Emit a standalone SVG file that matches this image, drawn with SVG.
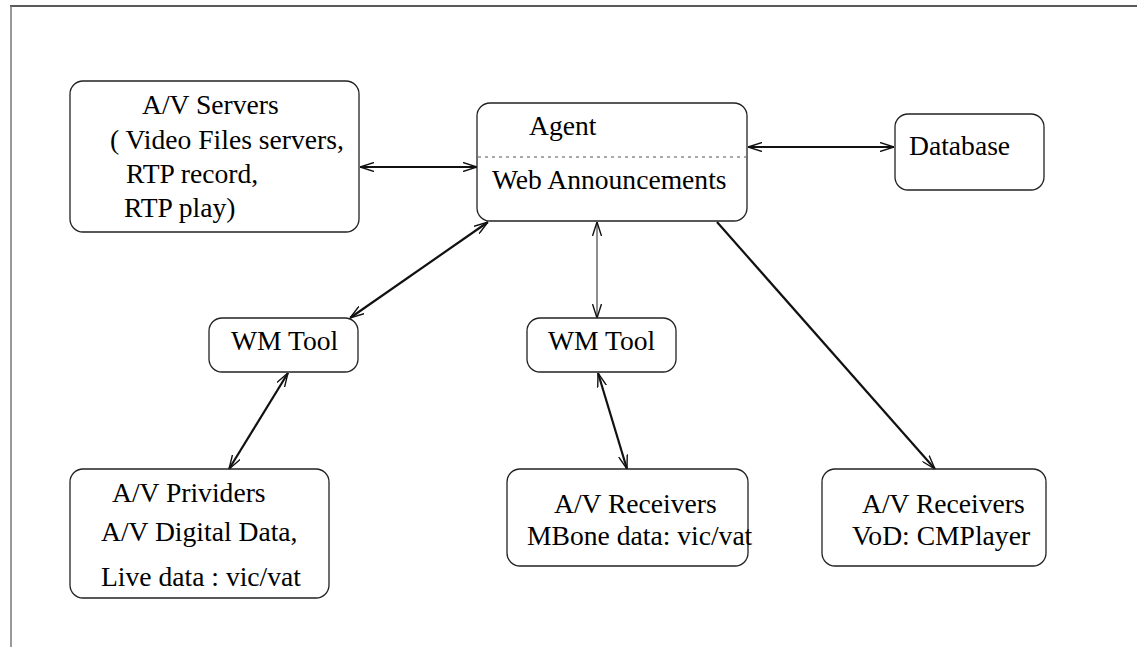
<svg xmlns="http://www.w3.org/2000/svg" width="1137" height="647" viewBox="0 0 1137 647">
<style>
.box{fill:none;stroke:#222;stroke-width:1.3}
.t{font-family:"Liberation Serif","Times New Roman",serif;font-size:27.6px;fill:#000}
.c{stroke:#111;stroke-width:2.2;fill:none}
.thin{stroke:#333;stroke-width:1.1;fill:none}
</style>
<defs>
<marker id="ah" viewBox="0 0 14 10" refX="14" refY="5" markerWidth="14" markerHeight="10" markerUnits="userSpaceOnUse" orient="auto-start-reverse">
<path d="M0,0.5 L14,5 L0,9.5" fill="none" stroke="#111" stroke-width="1.4"/>
</marker>
</defs>
<rect width="1137" height="647" fill="#fff"/>
<g id="frame">
<line x1="10" y1="6" x2="1137" y2="6" stroke="#222" stroke-width="1.5"/>
<line x1="11" y1="6" x2="11" y2="647" stroke="#777" stroke-width="1.5"/>
</g>
<g id="connectors">
<line class="c" x1="360" y1="167" x2="477" y2="167" marker-start="url(#ah)" marker-end="url(#ah)"/>
<line class="c" x1="748" y1="147" x2="894" y2="147" marker-start="url(#ah)" marker-end="url(#ah)"/>
<line class="c" x1="488" y1="222" x2="350" y2="318" marker-start="url(#ah)" marker-end="url(#ah)"/>
<line class="thin" x1="597" y1="222" x2="597" y2="318" marker-start="url(#ah)" marker-end="url(#ah)"/>
<line class="c" x1="288" y1="373" x2="229" y2="469" marker-start="url(#ah)" marker-end="url(#ah)"/>
<line class="c" x1="598" y1="373" x2="627" y2="469" marker-start="url(#ah)" marker-end="url(#ah)"/>
<line class="c" x1="717" y1="222" x2="935" y2="469" marker-end="url(#ah)"/>
</g>
<g id="servers">
<rect class="box" x="70" y="81" width="289" height="151" rx="13"/>
<text class="t" x="142" y="114">A/V Servers</text>
<text class="t" x="110" y="149">( Video Files servers,</text>
<text class="t" x="126" y="183">RTP record,</text>
<text class="t" x="124" y="217">RTP play)</text>
</g>
<g id="agent">
<rect class="box" x="477" y="103" width="270" height="118" rx="13"/>
<line x1="478" y1="157" x2="746" y2="157" stroke="#555" stroke-width="1" stroke-dasharray="3,4"/>
<text class="t" x="529" y="135">Agent</text>
<text class="t" x="492" y="189">Web Announcements</text>
</g>
<g id="database">
<rect class="box" x="895" y="114" width="149" height="76" rx="13"/>
<text class="t" x="909" y="155">Database</text>
</g>
<g id="wmtool1">
<rect class="box" x="209" y="318" width="149" height="54" rx="13"/>
<text class="t" x="231" y="350">WM Tool</text>
</g>
<g id="wmtool2">
<rect class="box" x="527" y="318" width="149" height="54" rx="13"/>
<text class="t" x="548" y="350">WM Tool</text>
</g>
<g id="providers">
<rect class="box" x="70" y="469" width="259" height="129" rx="13"/>
<text class="t" x="112" y="502">A/V Prividers</text>
<text class="t" x="101" y="541">A/V Digital Data,</text>
<text class="t" x="101" y="586">Live data : vic/vat</text>
</g>
<g id="receivers-mbone">
<rect class="box" x="507" y="469" width="241" height="97" rx="13"/>
<text class="t" x="554" y="513">A/V Receivers</text>
<text class="t" x="527" y="545">MBone data: vic/vat</text>
</g>
<g id="receivers-vod">
<rect class="box" x="822" y="469" width="224" height="97" rx="13"/>
<text class="t" x="862" y="513">A/V Receivers</text>
<text class="t" x="852" y="545">VoD: CMPlayer</text>
</g>
</svg>
